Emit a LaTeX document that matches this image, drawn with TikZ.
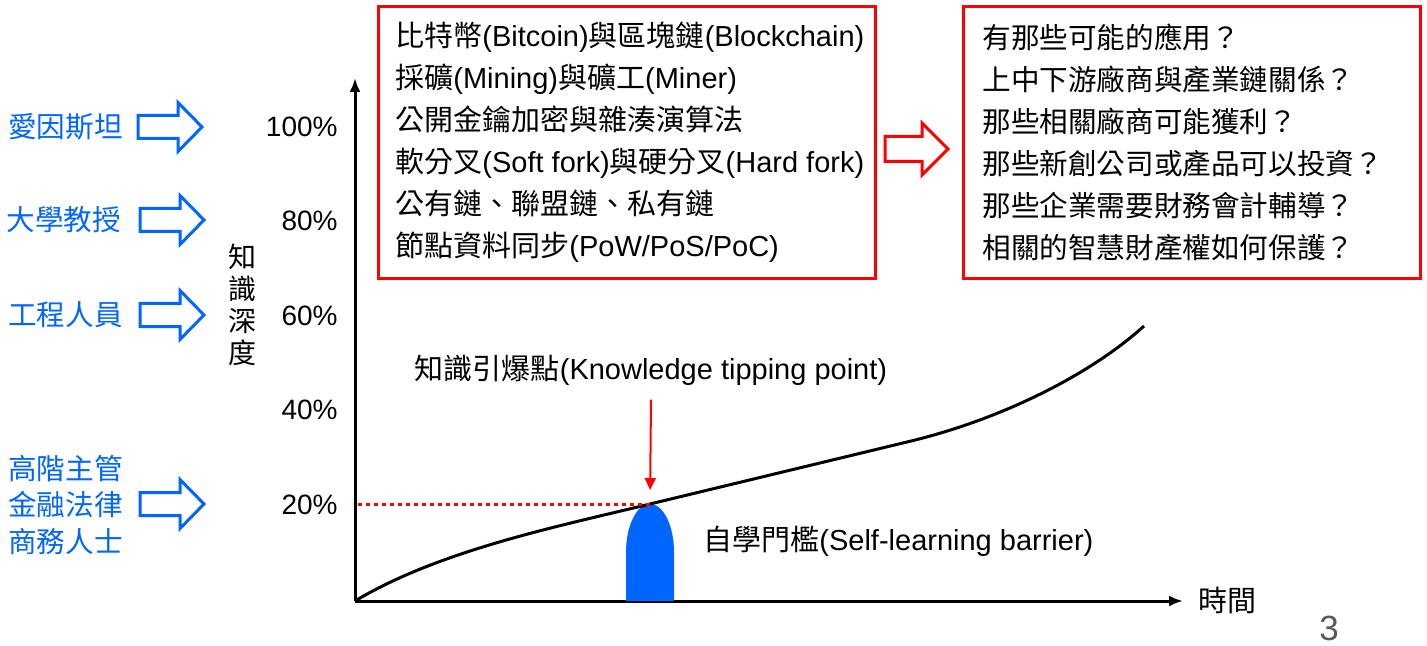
\documentclass[tikz,border=0pt]{standalone}
\usepackage{fontspec}
\setmainfont{Liberation Sans}
\newfontfamily\cjk{Noto Sans CJK TC}
\newcommand\zh[1]{{\cjk #1}}
\usetikzlibrary{arrows.meta}
\definecolor{myblue}{HTML}{0066FF}
\definecolor{myred}{HTML}{FF0000}
\definecolor{pgray}{HTML}{595959}
\tikzset{
  bluearr/.pic={\draw[color=myblue, line width=1.5pt, line join=miter]
     (0,-11.5) -- (40,-11.5) -- (40,-24.5) -- (64,0) -- (40,24.5) -- (40,11.5) -- (0,11.5) -- cycle;},
  redarr/.pic={\draw[color=myred, line width=1.5pt, line join=miter]
     (0,-12.5) -- (37,-12.5) -- (37,-26) -- (63,0) -- (37,26) -- (37,12.5) -- (0,12.5) -- cycle;},
}
\begin{document}
\begin{tikzpicture}[x=0.5pt,y=-0.5pt,
  txt/.style={font=\fontsize{14.5pt}{21pt}\selectfont, inner sep=0pt},
  bluetxt/.style={font=\fontsize{14.3pt}{18.25pt}\selectfont\cjk, text=myblue, inner sep=0pt, align=left},
  pct/.style={font=\fontsize{14pt}{16pt}\selectfont, inner sep=0pt, anchor=east},
  redbox/.style={draw=myred, line width=1.5pt, inner sep=0pt},
  axis/.style={line width=1.5pt, -{Latex[length=7pt,width=5.5pt]}},
  curve/.style={line width=1.5pt},
  dotline/.style={draw=myred, line width=1.5pt, dash pattern=on 2pt off 2pt},
  tiparrow/.style={draw=myred, line width=1pt, -{Triangle[length=6pt,width=5.5pt]}},
]
\useasboundingbox (0,0) rectangle (1427,646);

% left labels
\node[bluetxt, anchor=west] (einstein) at (8,127) {愛因斯坦};
\node[bluetxt, anchor=west] (prof) at (6,220) {大學教授};
\node[bluetxt, anchor=west] (eng) at (8,315) {工程人員};
\node[bluetxt, anchor=west] (exec) at (8,505) {高階主管\\金融法律\\商務人士};
\pic at (138,127) {bluearr};
\pic at (140,220) {bluearr};
\pic at (140,315) {bluearr};
\pic at (140,504) {bluearr};

% percent labels
\node[pct] (p100) at (338,127) {100\%};
\node[pct] (p80) at (338,221) {80\%};
\node[pct] (p60) at (338,316) {60\%};
\node[pct] (p40) at (338,410) {40\%};
\node[pct] (p20) at (338,505) {20\%};

% y label
\node[font=\fontsize{14pt}{16pt}\selectfont\cjk, align=center, inner sep=0pt] (ylab) at (242,305) {知\\識\\深\\度};

% axes
\coordinate (O) at (355,601);
\coordinate (ytop) at (355,78);
\coordinate (xend) at (1183,601);
\draw[axis] (O) -- (ytop);
\draw[axis] (O) -- (xend);
\node[txt, anchor=west] (time) at (1198,600) {\zh{時間}};

% barrier
\coordinate (tp) at (650,504);
\fill[myblue] (626,601) -- (626,552) .. controls (626,525.5) and (636.8,504) .. (650,504)
   .. controls (663.2,504) and (674,525.5) .. (674,552) -- (674,601) -- cycle;

% curve
\draw[curve] (O) .. controls (440,550) and (560,526) .. (tp) -- (907,442)
   .. controls (1000,420) and (1090,375) .. (1144,326);

% dotted line
\draw[dotline] (tp) -- (tp -| O);

% tipping label and arrow
\node[txt] (tip) at (651,370) {\zh{知識引爆點}(Knowledge tipping point)};
\draw[tiparrow, shorten >=7pt] ([yshift=-7pt]tip.south) -- (tp);

\node[txt, anchor=west] (barrier) at (703,541) {\zh{自學門檻}(Self-learning barrier)};

% boxes
\node[redbox, minimum width=248.5pt, minimum height=136pt] (box1) at (626.5,143) {};
\node[redbox, minimum width=228.5pt, minimum height=136pt] (box2) at (1191.5,143) {};
\node[txt, anchor=west, align=left] (t1) at (395,142) {%
\zh{比特幣}(Bitcoin)\zh{與區塊鏈}(Blockchain)\\
\zh{採礦}(Mining)\zh{與礦工}(Miner)\\
\zh{公開金鑰加密與雜湊演算法}\\
\zh{軟分叉}(Soft fork)\zh{與硬分叉}(Hard fork)\\
\zh{公有鏈、聯盟鏈、私有鏈}\\
\zh{節點資料同步}(PoW/PoS/PoC)};
\node[txt, anchor=west, align=left, font=\fontsize{14.3pt}{21pt}\selectfont\cjk] (t2) at (982,142) {%
有那些可能的應用？\\
上中下游廠商與產業鏈關係？\\
那些相關廠商可能獲利？\\
那些新創公司或產品可以投資？\\
那些企業需要財務會計輔導？\\
相關的智慧財產權如何保護？};
\pic at (885,149) {redarr};

% page number
\node[font=\fontsize{17.5pt}{20pt}\selectfont, text=pgray, inner sep=0pt] (pg) at (1329,628) {3};
\end{tikzpicture}
\end{document}
